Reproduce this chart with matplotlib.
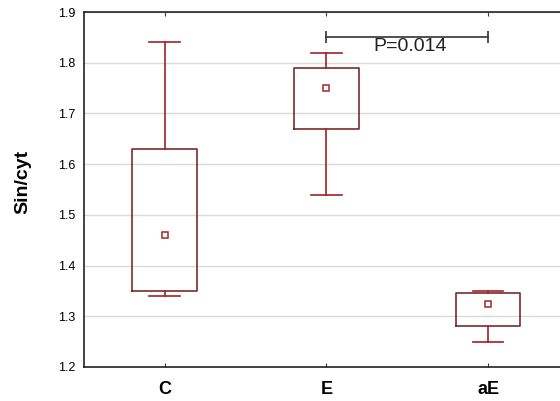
import matplotlib
matplotlib.use("Agg")
import matplotlib.pyplot as plt

plt.rcParams['font.family'] = ['Liberation Sans', 'DejaVu Sans']

# --- Data ---
groups = ["C", "E", "aE"]
whisker_low = [1.34, 1.54, 1.25]
box_low = [1.35, 1.67, 1.28]
box_high = [1.63, 1.79, 1.345]
whisker_high = [1.84, 1.82, 1.35]
means = [1.46, 1.75, 1.325]

p_pair = (1, 2)
p_label = "P=0.014"
p_level = 1.851

yticks = [1.2, 1.3, 1.4, 1.5, 1.6, 1.7, 1.8, 1.9]

# --- Plot ---
fig = plt.figure(figsize=(5.6, 4.01), dpi=100)
ax = fig.add_axes([0.15, 0.085, 0.866, 0.885])

stats = []
for i, g in enumerate(groups):
    stats.append(dict(label=g, whislo=whisker_low[i], q1=box_low[i],
                      med=means[i], q3=box_high[i], whishi=whisker_high[i],
                      mean=means[i], fliers=[]))

box_col = '#7a2b2b'
whisk_col = '#9e2323'
ax.bxp(stats, positions=range(len(groups)), widths=0.40,
       showmeans=True, showfliers=False,
       boxprops=dict(color=box_col, linewidth=1.2),
       whiskerprops=dict(color=whisk_col, linewidth=1.2),
       capprops=dict(color=whisk_col, linewidth=1.2),
       capwidths=0.19,
       medianprops=dict(visible=False),
       meanprops=dict(marker='s', markersize=4.5, markerfacecolor='white',
                      markeredgecolor='#a02828', markeredgewidth=1.1))

# significance bracket
ax.plot(p_pair, [p_level, p_level], color='#333333', lw=1.2,
        marker='|', markersize=8, markeredgewidth=1.2)
ax.text(sum(p_pair) / 2 + 0.015, p_level - 0.002, p_label, ha='center', va='top',
        fontsize=14, color='#222222')

ax.set_xlim(-0.5, 2.5)
ax.set_ylim(1.2, 1.9)
ax.set_yticks(yticks)
ax.set_yticklabels([f"{v:.1f}" for v in yticks])
ax.yaxis.grid(True, color='#d9d9d9', linewidth=1)
ax.set_axisbelow(True)

ax.set_xticks(range(len(groups)))
ax.set_xticklabels(groups, fontsize=13, fontweight='bold')
ax.tick_params(axis='x', direction='in', length=3, top=True, pad=10, color='#333333')
ax.tick_params(axis='y', length=0, labelsize=9, pad=6)

for s in ax.spines.values():
    s.set_linewidth(1.2)
    s.set_color('#222222')

ax.set_ylabel("Sin/cyt", fontsize=14, fontweight='bold')
ax.yaxis.set_label_coords(-0.108, 0.52)

fig.savefig("out.png", dpi=100)
